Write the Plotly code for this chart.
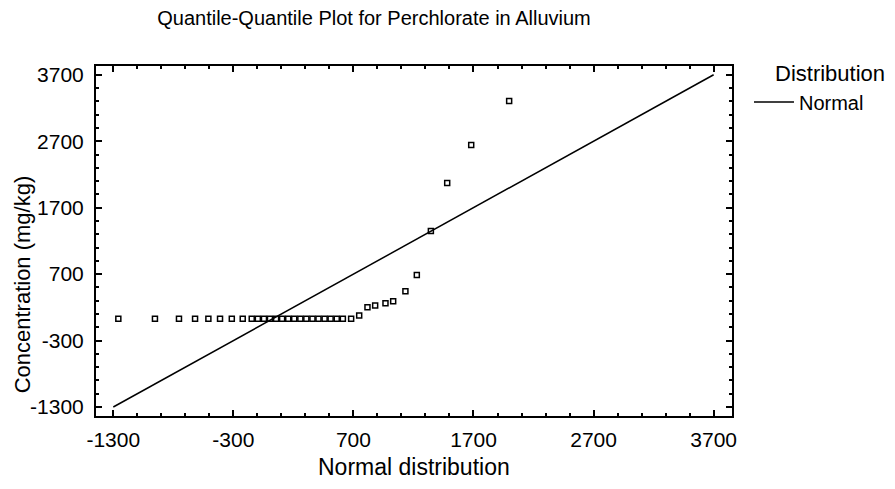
import plotly.graph_objects as go

# Normal quantiles (x) and sorted concentrations (y)
normal_quantiles = [-1258, -953, -753, -619, -508, -411, -313, -222, -147,
                    -96, -45, 5, 56, 106, 157, 207, 258, 308, 359, 409, 460, 510, 561,
                    612, 681, 748, 817, 881, 967, 1031, 1133, 1228, 1345, 1481, 1681, 1997]
concentration = [30] * 25 + [78, 203, 229, 263, 293, 444, 685, 1348, 2070, 2643, 3305]

# Reference line of the fitted normal distribution
line_x = [-1300, 3700]
line_y = [-1300, 3700]

tick_vals = [-1300, -300, 700, 1700, 2700, 3700]
tick_text = ["-1300", "-300", "700", "1700", "2700", "3700"]

FONT = "Liberation Sans, Arial, sans-serif"

fig = go.Figure()
fig.add_trace(go.Scatter(
    x=line_x, y=line_y, mode="lines", name="Normal",
    line=dict(color="black", width=1.5), showlegend=True))
fig.add_trace(go.Scatter(
    x=normal_quantiles, y=concentration, mode="markers", showlegend=False,
    marker=dict(symbol="square-open", size=5, color="black", line=dict(width=1.5, color="black"))))

axis_common = dict(
    showline=True, linecolor="black", linewidth=2, mirror="allticks",
    ticks="inside", ticklen=6, tickwidth=1.5, tickcolor="black",
    tickvals=tick_vals, ticktext=tick_text,
    minor=dict(ticks="inside", ticklen=3, tickwidth=1.5, tickcolor="black", dtick=200, tick0=-1300),
    showgrid=False, zeroline=False,
    tickfont=dict(family=FONT, size=21, color="black"),
)

fig.update_layout(
    width=895, height=489,
    margin=dict(l=88, r=171, t=58, b=81),
    paper_bgcolor="white", plot_bgcolor="white",
    font=dict(family=FONT, color="black"),
    title=dict(text="Quantile-Quantile Plot for Perchlorate in Alluvium",
               x=366 / 895, xref="container", xanchor="center",
               y=1 - 3 / 489, yref="container", yanchor="top", pad=dict(t=0, b=0),
               font=dict(family=FONT, size=20, color="black")),
    xaxis=dict(range=[-1444, 3853], ticklabelstandoff=4, **axis_common),
    yaxis=dict(range=[-1435, 3832], ticklabelstandoff=6, **axis_common),
    legend=dict(x=1.0267, y=0.953, xanchor="left", yanchor="top",
                font=dict(family=FONT, size=20, color="black"),
                bgcolor="rgba(0,0,0,0)", itemwidth=40),
    annotations=[
        dict(text="Distribution", x=1.154, y=0.979, xref="paper", yref="paper",
             xanchor="center", yanchor="middle", showarrow=False,
             font=dict(family=FONT, size=22, color="black")),
        dict(text="Concentration (mg/kg)", x=-0.1164, y=0.376, xref="paper", yref="paper",
             xanchor="center", yanchor="middle", showarrow=False, textangle=-90,
             font=dict(family=FONT, size=22, color="black")),
        dict(text="Normal distribution", x=0.5, y=-0.147, xref="paper", yref="paper",
             xanchor="center", yanchor="middle", showarrow=False,
             font=dict(family=FONT, size=23, color="black")),
    ],
)

fig.write_html("out.html")
